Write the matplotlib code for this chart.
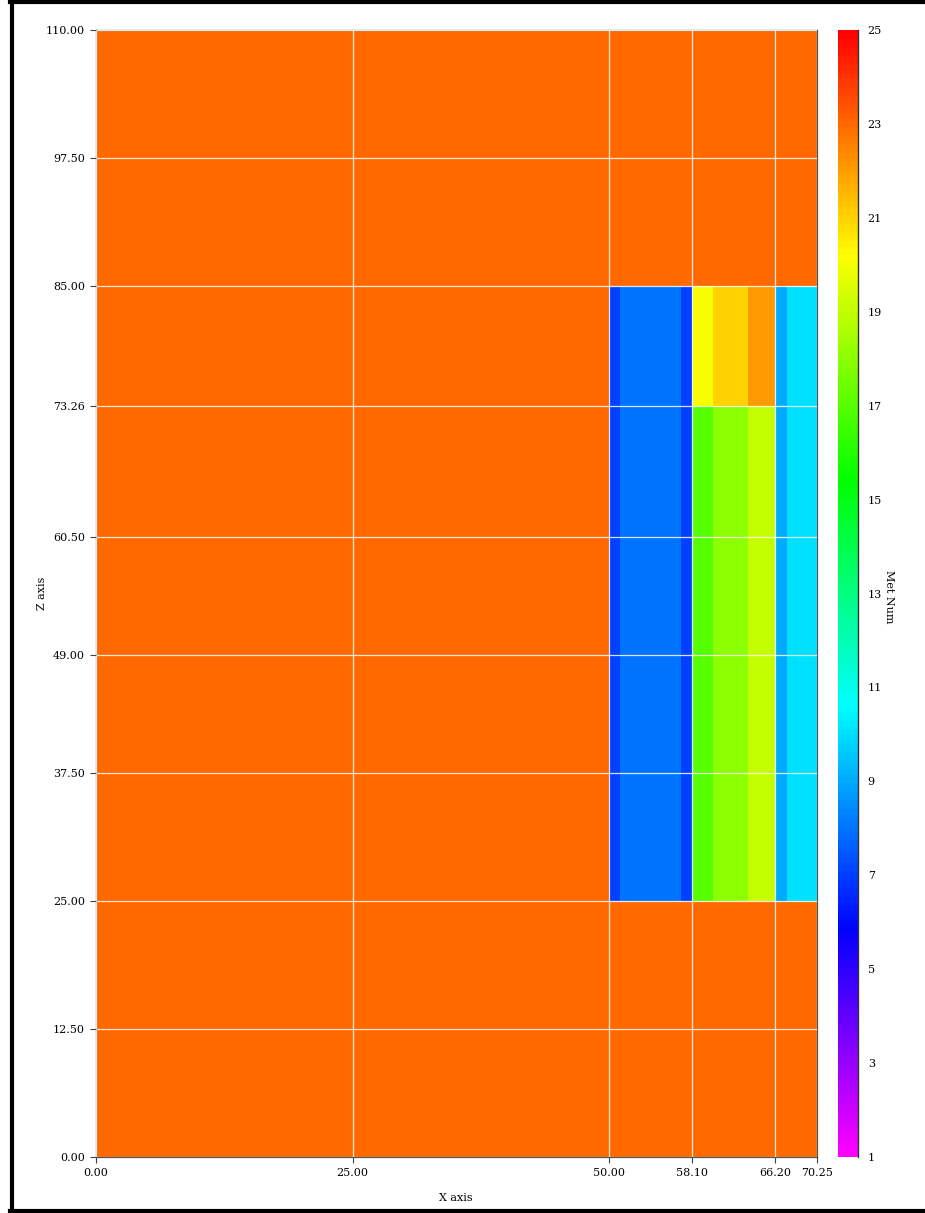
import numpy as np
import matplotlib
matplotlib.use("Agg")
import matplotlib.pyplot as plt
from matplotlib.colors import ListedColormap, Normalize, hsv_to_rgb
from matplotlib.lines import Line2D

# ---- data ----
x_edges = [0.0, 50.0, 51.1, 57.0, 58.1, 60.1, 63.5, 66.2, 67.3, 70.25]
z_edges = [0.0, 25.0, 73.26, 85.0, 110.0]
met_row_0_25 = [23, 23, 23, 23, 23, 23, 23, 23, 23]
met_row_25_73 = [23, 7, 8, 7, 17, 18, 19, 9, 10]
met_row_73_85 = [23, 7, 8, 7, 20, 21, 22, 9, 10]
met_row_85_110 = [23, 23, 23, 23, 23, 23, 23, 23, 23]
x_ticks = [0.0, 25.0, 50.0, 58.1, 66.2, 70.25]
z_ticks = [0.0, 12.5, 25.0, 37.5, 49.0, 60.5, 73.26, 85.0, 97.5, 110.0]
cbar_ticks = [1, 3, 5, 7, 9, 11, 13, 15, 17, 19, 21, 23, 25]
met_min, met_max = 1, 25

met = np.array([met_row_0_25, met_row_25_73, met_row_73_85, met_row_85_110])

# hue colormap: magenta (1) -> blue -> cyan -> green -> yellow -> red (25)
n = 256
hues = np.linspace(300, 0, n) / 360.0
hsv = np.stack([hues, np.ones(n), np.ones(n)], axis=1)
cmap = ListedColormap(hsv_to_rgb(hsv))
norm = Normalize(met_min, met_max)

plt.rcParams['font.family'] = ['DejaVu Serif']
W, H = 925, 1213
fig = plt.figure(figsize=(W / 100, H / 100), dpi=100)

def fx(px):
    return px / W

def fy(py):
    return 1 - py / H

ax_l, ax_r, ax_t, ax_b = 96, 817, 30, 1157
ax = fig.add_axes([fx(ax_l), fy(ax_b), fx(ax_r - ax_l), (ax_b - ax_t) / H])
ax.pcolormesh(x_edges, z_edges, met, cmap=cmap, norm=norm, shading='flat')
ax.set_xlim(x_edges[0], x_edges[-1])
ax.set_ylim(z_edges[0], z_edges[-1])
ax.set_xticks(x_ticks)
ax.set_xticklabels([f"{v:.2f}" for v in x_ticks])
ax.set_yticks(z_ticks)
ax.set_yticklabels([f"{v:.2f}" for v in z_ticks])
ax.tick_params(direction='out', length=4, width=0.8, color='#444444',
               labelsize=8, pad=4)
ax.grid(True, color='white', lw=0.9, alpha=0.85)
ax.set_axisbelow(False)
for s in ax.spines.values():
    s.set_color('#555555')
    s.set_linewidth(0.9)

fig.text(fx(456), fy(1198), "X axis", ha='center', va='center', fontsize=8)
fig.text(fx(42), fy(593), "Z axis", ha='center', va='center', fontsize=8, rotation=90)

# colorbar
cax = fig.add_axes([fx(838), fy(ax_b), fx(20), (ax_b - ax_t) / H])
sm = matplotlib.cm.ScalarMappable(norm=norm, cmap=cmap)
cb = fig.colorbar(sm, cax=cax, ticks=cbar_ticks)
cb.outline.set_visible(False)
cax.tick_params(length=0, labelsize=8, pad=7)
cax.plot([1, 1], [0, 1], transform=cax.transAxes, color='#333333', lw=1, clip_on=False)
fig.text(fx(889), fy(597), "Met Num", ha='center', va='center', fontsize=8, rotation=270)

# figure border (left, top, bottom)
fig.add_artist(Line2D([fx(12), fx(12)], [fy(2), fy(1211)], color='black', lw=3))
fig.add_artist(Line2D([fx(10), 1.0], [fy(2), fy(2)], color='black', lw=3))
fig.add_artist(Line2D([fx(10), 1.0], [fy(1211), fy(1211)], color='black', lw=3))

fig.savefig("out.png", dpi=100)
